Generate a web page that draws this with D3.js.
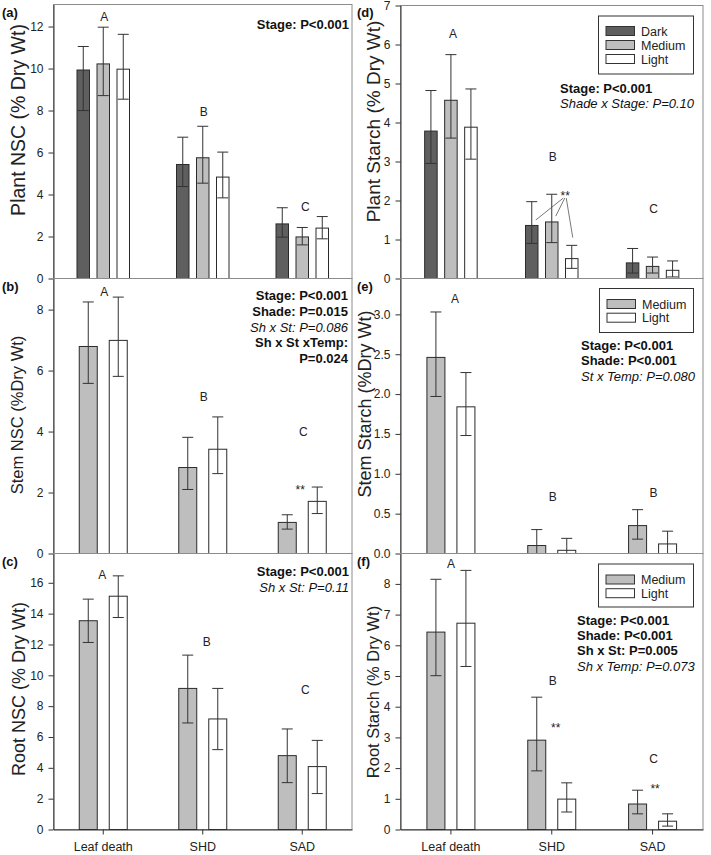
<!DOCTYPE html>
<html><head><meta charset="utf-8">
<script src="https://cdn.jsdelivr.net/npm/d3@7"></script>
<style>body{margin:0;background:#fff}svg{display:block;font-family:Arial,"Liberation Sans",sans-serif}</style>
</head><body><script>
// ---------- data ----------
const categories = ["Leaf death", "SHD", "SAD"];
const shade3 = ["Dark", "Medium", "Light"];
const shade2 = ["Medium", "Light"];

// (a) Plant NSC
const plantNscDark = [9.93, 5.43, 2.60], plantNscDarkHi = [11.05, 6.73, 3.37], plantNscDarkLo = [8.00, 4.38, 1.97];
const plantNscMed = [10.22, 5.75, 1.98], plantNscMedHi = [11.97, 7.25, 2.43], plantNscMedLo = [8.71, 4.54, 1.60];
const plantNscLight = [9.97, 4.83, 2.40], plantNscLightHi = [11.63, 6.02, 2.95], plantNscLightLo = [8.54, 3.84, 1.89];
// (b) Stem NSC
const stemNscMed = [6.79, 2.82, 1.02], stemNscMedHi = [8.25, 3.81, 1.27], stemNscMedLo = [5.58, 2.10, 0.80];
const stemNscLight = [6.99, 3.42, 1.71], stemNscLightHi = [8.41, 4.48, 2.18], stemNscLightLo = [5.81, 2.62, 1.31];
// (c) Root NSC
const rootNscMed = [13.54, 9.15, 4.79], rootNscMedHi = [14.94, 11.31, 6.52], rootNscMedLo = [12.13, 6.91, 3.04];
const rootNscLight = [15.13, 7.17, 4.08], rootNscLightHi = [16.45, 9.15, 5.78], rootNscLightLo = [13.75, 5.18, 2.33];
// (d) Plant starch
const plantStDark = [3.78, 1.36, 0.40], plantStDarkHi = [4.82, 1.97, 0.77], plantStDarkLo = [2.95, 0.90, 0.14];
const plantStMed = [4.57, 1.45, 0.31], plantStMedHi = [5.74, 2.16, 0.55], plantStMedLo = [3.60, 0.92, 0.14];
const plantStLight = [3.88, 0.51, 0.21], plantStLightHi = [4.86, 0.85, 0.45], plantStLightLo = [3.06, 0.26, 0.04];
// (e) Stem starch
const stemStMed = [2.46, 0.10, 0.35], stemStMedHi = [3.03, 0.30, 0.55], stemStMedLo = [1.97, 0.00, 0.18];
const stemStLight = [1.84, 0.04, 0.12], stemStLightHi = [2.27, 0.19, 0.28], stemStLightLo = [1.48, 0.00, 0.00];
// (f) Root starch
const rootStMed = [6.43, 2.91, 0.83], rootStMedHi = [8.15, 4.31, 1.28], rootStMedLo = [5.01, 1.91, 0.51];
const rootStLight = [6.72, 0.99, 0.27], rootStLightHi = [8.44, 1.52, 0.51], rootStLightLo = [5.31, 0.57, 0.11];

// tick values
const ticksA = [0, 2, 4, 6, 8, 10, 12];
const ticksB = [0, 2, 4, 6, 8];
const ticksC = [0, 2, 4, 6, 8, 10, 12, 14, 16];
const ticksD = [0, 1, 2, 3, 4, 5, 6, 7];
const ticksE = [0, 0.5, 1.0, 1.5, 2.0, 2.5, 3.0];
const ticksF = [0, 1, 2, 3, 4, 5, 6, 7, 8];

// significance letters (value at which letter sits)
const lettersA = ["A", "B", "C"], letterValsA = [12.5, 7.95, 3.43];
const lettersB = ["A", "B", "C"], letterValsB = [8.6, 5.16, 4.01];
const lettersC = ["A", "B", "C"], letterValsC = [16.53, 12.2, 9.09];
const lettersD = ["A", "B", "C"], letterValsD = [6.28, 3.12, 1.79];
const lettersE = ["A", "B", "B"], letterValsE = [3.2, 0.71, 0.77];
const lettersF = ["A", "B", "C"], letterValsF = [8.67, 4.86, 2.31];

// asterisks: category, value
const starsB = [["SAD", 2.18]];
const starsD = [["SHD", 2.19]];
const starsF = [["SHD", 3.41], ["SAD", 1.41]];
// (d) connector lines: from [category, series, value] to star value
const connD = [["SHD", "Dark", 1.50], ["SHD", "Medium", 1.60], ["SHD", "Light", 1.05]];

// statistics text
const statsA = ["Stage: P<0.001"];
const statsB = ["Stage: P<0.001", "Shade: P=0.015", "Sh x St: P=0.086", "Sh x St xTemp:", "P=0.024"];
const statsC = ["Stage: P<0.001", "Sh x St: P=0.11"];
const statsD = ["Stage: P<0.001", "Shade x Stage: P=0.10"];
const statsE = ["Stage: P<0.001", "Shade: P<0.001", "St x Temp: P=0.080"];
const statsF = ["Stage: P<0.001", "Shade: P<0.001", "Sh x St: P=0.005", "Sh x Temp: P=0.073"];

const yTitles = ["Plant NSC (% Dry Wt)", "Stem NSC (%Dry Wt)", "Root NSC (% Dry Wt)",
                 "Plant Starch (% Dry Wt)", "Stem Starch (%Dry Wt)", "Root Starch (% Dry Wt)"];
const panelTags = ["(a)", "(b)", "(c)", "(d)", "(e)", "(f)"];

// ---------- layout / style ----------
const fills = {Dark: "#5f5f5f", Medium: "#bebebe", Light: "#ffffff"};
const rowsL = [[4.5, 278.5], [278.5, 553.5], [553.5, 829.5]];
const rowsR = [[5.5, 278.5], [278.5, 553.5], [553.5, 829.5]];
const cols = [[53.5, 352], [400.5, 703]];

const mk = (names, means, his, los) => names.map((n, i) => ({name: n, mean: means[i], hi: his[i], lo: los[i]}));

const panels = [
  {col: 0, row: 0, ymax: 13.05, ticks: ticksA, fmt: d3.format("d"),
   series: mk(shade3, [plantNscDark, plantNscMed, plantNscLight], [plantNscDarkHi, plantNscMedHi, plantNscLightHi], [plantNscDarkLo, plantNscMedLo, plantNscLightLo]),
   letters: lettersA, letterVals: letterValsA, letterDx: [1, 1, 3], stars: [],
   stats: statsA, statBold: [true], statAnchor: "end", statX: 349, statY: [29], titleY: 120, titleX: 20, titleSize: 19.5},
  {col: 0, row: 1, ymax: 9.02, ticks: ticksB, fmt: d3.format("d"),
   series: mk(shade2, [stemNscMed, stemNscLight], [stemNscMedHi, stemNscLightHi], [stemNscMedLo, stemNscLightLo]),
   letters: lettersB, letterVals: letterValsB, letterDx: [1, 1, 1], stars: starsB, starDx: [-2],
   stats: statsB, statBold: [true, true, false, true, true], statAnchor: "end", statX: 348, statY: [300, 316, 331.5, 347, 363], titleY: 415, titleX: 19, titleSize: 16.5},
  {col: 0, row: 2, ymax: 17.9, ticks: ticksC, fmt: d3.format("d"), xAxis: true,
   series: mk(shade2, [rootNscMed, rootNscLight], [rootNscMedHi, rootNscLightHi], [rootNscMedLo, rootNscLightLo]),
   letters: lettersC, letterVals: letterValsC, letterDx: [-1, 4, 3], stars: [],
   stats: statsC, statBold: [true, false], statAnchor: "end", statX: 349, statY: [576, 592], titleY: 689, titleX: 20, titleSize: 18},
  {col: 1, row: 0, ymax: 7.0, ticks: ticksD, fmt: d3.format("d"),
   series: mk(shade3, [plantStDark, plantStMed, plantStLight], [plantStDarkHi, plantStMedHi, plantStLightHi], [plantStDarkLo, plantStMedLo, plantStLightLo]),
   letters: lettersD, letterVals: letterValsD, letterDx: [2, 1, 1], stars: starsD, starDx: [13.5], conn: connD,
   legend: shade3, legendBox: [598.5, 16, 95, 58],
   stats: statsD, statBold: [true, false], statAnchor: "start", statX: 560, statY: [93, 108], titleY: 121.5, titleX: 375, titleSize: 19},
  {col: 1, row: 1, ymax: 3.45, ticks: ticksE, fmt: d3.format(".1f"),
   series: mk(shade2, [stemStMed, stemStLight], [stemStMedHi, stemStLightHi], [stemStMedLo, stemStLightLo]),
   letters: lettersE, letterVals: letterValsE, letterDx: [4, 1, 1], stars: [],
   legend: shade2, legendBox: [599.5, 288.5, 94, 44],
   stats: statsE, statBold: [true, true, false], statAnchor: "start", statX: 581, statY: [350, 365, 380.5], titleY: 404, titleX: 366, titleSize: 18},
  {col: 1, row: 2, ymax: 8.99, ticks: ticksF, fmt: d3.format("d"), xAxis: true,
   series: mk(shade2, [rootStMed, rootStLight], [rootStMedHi, rootStLightHi], [rootStMedLo, rootStLightLo]),
   letters: lettersF, letterVals: letterValsF, letterDx: [0, 1, 1], stars: starsF, starDx: [4, 2.5],
   legend: shade2, legendBox: [598.5, 564, 95, 43],
   stats: statsF, statBold: [true, true, true, false], statAnchor: "start", statX: 577, statY: [624.5, 639.5, 655, 670.5], titleY: 692, titleX: 375, titleSize: 16.5}
];

const svg = d3.select("body").append("svg").attr("width", 711).attr("height", 855);

panels.forEach((p, pi) => {
  const [x0, x1] = cols[p.col], [y0, y1] = (p.col ? rowsR : rowsL)[p.row];
  const g = svg.append("g");
  const x = d3.scaleBand().domain(categories).range([x0, x1]);
  const cx = c => x(c) + x.bandwidth() / 2;
  const names = p.series.map(s => s.name);
  const three = names.length === 3;
  const inner = d3.scalePoint().domain(names).range(three ? [-20, 20] : [-15, 15]);
  const bw = three ? 12.5 : 18;
  const y = d3.scaleLinear().domain([0, p.ymax]).range([y1, y0]);

  // frame
  g.append("rect").attr("x", x0).attr("y", y0).attr("width", x1 - x0).attr("height", y1 - y0)
    .attr("fill", "none").attr("stroke", "#8c8c8c").attr("stroke-width", 1);

  // bars
  const bars = [];
  p.series.forEach(s => categories.forEach((c, i) => bars.push({s: s.name, c, v: s.mean[i], hi: s.hi[i], lo: s.lo[i]})));
  g.selectAll("rect.bar").data(bars).join("rect").attr("class", "bar")
    .attr("x", d => cx(d.c) + inner(d.s) - bw / 2).attr("width", bw)
    .attr("y", d => y(d.v)).attr("height", d => y(0) - y(d.v))
    .attr("fill", d => fills[d.s]).attr("stroke", "#2a2a2a").attr("stroke-width", 1);

  // error bars
  const cap = 5.5;
  const eb = g.selectAll("g.err").data(bars).join("g").attr("class", "err")
    .attr("stroke", "#333").attr("stroke-width", 1);
  eb.append("line").attr("x1", d => cx(d.c) + inner(d.s)).attr("x2", d => cx(d.c) + inner(d.s))
    .attr("y1", d => y(d.hi)).attr("y2", d => y(d.lo));
  eb.append("line").attr("x1", d => cx(d.c) + inner(d.s) - cap).attr("x2", d => cx(d.c) + inner(d.s) + cap)
    .attr("y1", d => y(d.hi)).attr("y2", d => y(d.hi));
  eb.filter(d => d.lo > 0).append("line").attr("x1", d => cx(d.c) + inner(d.s) - cap).attr("x2", d => cx(d.c) + inner(d.s) + cap)
    .attr("y1", d => y(d.lo)).attr("y2", d => y(d.lo));

  // y axis
  const ya = g.append("g").attr("transform", `translate(${x0},0)`)
    .call(d3.axisLeft(y).tickValues(p.ticks).tickFormat(p.fmt).tickSize(5).tickSizeOuter(0).tickPadding(5));
  ya.select(".domain").attr("stroke", "#333");
  ya.selectAll(".tick line").attr("stroke", "#333");
  ya.selectAll("text").attr("font-size", 12).attr("fill", "#222").attr("font-family", null);

  // x axis
  if (p.xAxis) {
    const xa = g.append("g").attr("transform", `translate(0,${y1})`)
      .call(d3.axisBottom(x).tickSize(5).tickSizeOuter(0).tickPadding(8));
    xa.select(".domain").attr("stroke", "#333");
    xa.selectAll(".tick line").attr("stroke", "#333");
    xa.selectAll("text").attr("font-size", 12.5).attr("fill", "#222").attr("font-family", null);
  } else {
    g.append("line").attr("x1", x0).attr("x2", x1).attr("y1", y1).attr("y2", y1).attr("stroke", "#333");
  }

  // y title
  g.append("text").attr("transform", `translate(${p.titleX},${p.titleY}) rotate(-90)`)
    .attr("text-anchor", "middle").attr("dominant-baseline", "middle")
    .attr("font-size", p.titleSize).attr("fill", "#222").text(yTitles[pi]);

  // panel tag
  g.append("text").attr("x", p.col ? 357 : 2).attr("y", (p.col ? 4.5 : y0) + 12.5)
    .attr("y", ([4.5, 278.5, 553.5][p.row]) + 12.5)
    .attr("font-size", 13).attr("font-weight", "bold").attr("fill", "#111").text(panelTags[pi]);

  // letters
  g.selectAll("text.let").data(p.letters).join("text").attr("class", "let")
    .attr("x", (d, i) => cx(categories[i]) + p.letterDx[i]).attr("y", (d, i) => y(p.letterVals[i]) + 4.5)
    .attr("text-anchor", "middle").attr("font-size", 12).attr("fill", "#222").text(d => d);

  // asterisks
  g.selectAll("text.star").data(p.stars).join("text").attr("class", "star")
    .attr("x", (d, i) => cx(d[0]) + p.starDx[i]).attr("y", d => y(d[1]) + 7)
    .attr("text-anchor", "middle").attr("font-size", 12).attr("fill", "#222").text("**");

  if (p.conn) {
    const sx = cx(p.stars[0][0]) + p.starDx[0], sy = y(p.stars[0][1]) + 5;
    g.selectAll("line.conn").data(p.conn).join("line").attr("class", "conn")
      .attr("x1", d => cx(d[0]) + inner(d[1]) + (d[1] === "Light" ? 1 : 4)).attr("y1", d => y(d[2]))
      .attr("x2", (d, i) => sx - 2 + i * 1.5).attr("y2", sy)
      .attr("stroke", "#555").attr("stroke-width", 0.8);
  }

  // stats
  g.selectAll("text.stat").data(p.stats).join("text").attr("class", "stat")
    .attr("x", p.statX).attr("y", (d, i) => p.statY[i]).attr("text-anchor", p.statAnchor)
    .attr("font-size", 13).attr("fill", "#111")
    .attr("font-weight", (d, i) => p.statBold[i] ? "bold" : "normal")
    .attr("font-style", (d, i) => p.statBold[i] ? "normal" : "italic")
    .text(d => d);

  // legend
  if (p.legend) {
    const [lx, ly, lw, lh] = p.legendBox;
    const lg = g.append("g");
    lg.append("rect").attr("x", lx).attr("y", ly).attr("width", lw).attr("height", lh)
      .attr("fill", "#fff").attr("stroke", "#333").attr("stroke-width", 1);
    const pad = p.legend.length === 3 ? 15 : 15.5;
    const step = p.legend.length === 3 ? 14 : 13.7;
    const it = lg.selectAll("g.li").data(p.legend).join("g").attr("class", "li")
      .attr("transform", (d, i) => `translate(${lx + 7.5},${ly + pad + i * step})`);
    it.append("rect").attr("x", 0).attr("y", -4.5).attr("width", 28.5).attr("height", 9)
      .attr("fill", d => fills[d]).attr("stroke", "#333");
    it.append("text").attr("x", 35).attr("y", 4.5).attr("font-size", 12.5).attr("fill", "#222").text(d => d);
  }
});
</script></body></html>
